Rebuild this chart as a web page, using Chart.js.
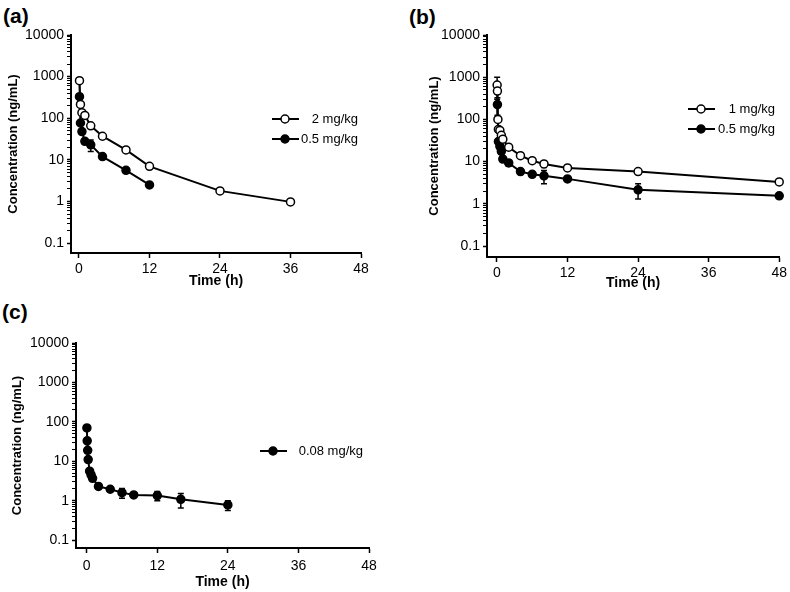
<!DOCTYPE html>
<html lang="en">
<head>
  <meta charset="UTF-8" />
  <title>Concentration-time profiles</title>
  <script src="https://cdn.jsdelivr.net/npm/chart.js"></script>
  <style>
    body { margin: 0; background: #fff; width: 790px; height: 592px; position: relative; overflow: hidden;
           font-family: "Liberation Sans", Arial, sans-serif; }
    canvas { position: absolute; }
    .tag { position: absolute; font-weight: bold; font-size: 21px; line-height: 21px; }
  </style>
</head>
<body>
  <div class="tag" style="left:3px;top:5px">(a)</div>
  <div class="tag" style="left:409px;top:6px">(b)</div>
  <div class="tag" style="left:2px;top:301px">(c)</div>

  <canvas id="chartA" width="385" height="290" style="left:0;top:0"></canvas>
  <canvas id="chartB" width="390" height="292" style="left:400px;top:0"></canvas>
  <canvas id="chartC" width="385" height="291" style="left:0;top:300px"></canvas>

  <script>
    const TIME_TICKS = [0, 12, 24, 36, 48];
    const CONC_TICKS = [0.1, 1, 10, 100, 1000, 10000];

    // (a)
    const timeA2 = [0.083, 0.25, 0.5, 1, 2, 4, 8, 12, 24, 36];
    const concA2 = [800, 215, 136, 117, 66, 37, 17.4, 7, 1.8, 0.98];
    const sdA2 = [0, 0, 0, 0, 0, 0, 0, 0, 0, 0];
    const timeA05 = [0.083, 0.25, 0.5, 1, 2, 4, 8, 12];
    const concA05 = [330, 77, 48, 28, 23, 12, 5.6, 2.5];
    const sdA05 = [470, 0, 0, 0, 7, 0, 0, 0];

    // (b)
    const timeB1 = [0.033, 0.083, 0.167, 0.25, 0.5, 0.75, 1, 2, 4, 6, 8, 12, 24, 48];
    const concB1 = [650, 470, 100, 58, 55, 42, 34, 22, 13.8, 10.5, 8.8, 7.1, 5.8, 3.3];
    const sdB1 = [350, 0, 0, 0, 0, 0, 0, 0, 0, 0, 1.5, 0, 0, 0];
    const timeB05 = [0.083, 0.25, 0.5, 0.75, 1, 2, 4, 6, 8, 12, 24, 48];
    const concB05 = [225, 30, 23, 17.5, 11.5, 9.3, 5.8, 5, 4.6, 3.9, 2.15, 1.55];
    const sdB05 = [100, 0, 0, 0, 0, 1.5, 0, 0, 1.6, 0, 0.85, 0];

    // (c)
    const timeC = [0.033, 0.083, 0.167, 0.25, 0.5, 0.75, 1, 2, 4, 6, 8, 12, 16, 24];
    const concC = [70, 33, 19, 11, 5.6, 4.5, 3.7, 2.3, 1.95, 1.6, 1.4, 1.35, 1.08, 0.78];
    const sdC = [0, 0, 0, 0, 0, 0, 0, 0.2, 0.2, 0.45, 0.15, 0.35, 0.43, 0.22];

    Chart.defaults.font.family = '"Liberation Sans", Arial, sans-serif';
    Chart.defaults.color = '#000';

    // log axis ticks: decades plus 2..9 minor marks
    const logTicks = [];
    CONC_TICKS.forEach((d, i) => {
      logTicks.push(d);
      if (i < CONC_TICKS.length - 1) for (let k = 2; k <= 9; k++) logTicks.push(d * k);
    });

    const errorBars = {
      id: 'errorBars',
      beforeDatasetsDraw(chart) {
        const ctx = chart.ctx;
        const yScale = chart.scales.y;
        chart.data.datasets.forEach((ds, i) => {
          if (!ds.sd) return;
          const meta = chart.getDatasetMeta(i);
          ctx.save();
          ctx.strokeStyle = '#000';
          ctx.lineWidth = 1.5;
          meta.data.forEach((pt, j) => {
            const sd = ds.sd[j];
            if (!sd) return;
            const v = ds.data[j].y;
            const hi = yScale.getPixelForValue(v + sd);
            // negative lower bounds can't show on a log axis, keep only the upper half
            const lo = v - sd > 0 ? yScale.getPixelForValue(v - sd) : pt.y;
            ctx.beginPath();
            ctx.moveTo(pt.x, hi); ctx.lineTo(pt.x, lo);
            ctx.moveTo(pt.x - 3, hi); ctx.lineTo(pt.x + 3, hi);
            if (v - sd > 0) { ctx.moveTo(pt.x - 3, lo); ctx.lineTo(pt.x + 3, lo); }
            ctx.stroke();
          });
          ctx.restore();
        });
      }
    };

    const insideLegend = {
      id: 'insideLegend',
      afterDraw(chart, args, opts) {
        const ctx = chart.ctx;
        chart.data.datasets.forEach((ds, i) => {
          const y = opts.y + i * opts.gap;
          ctx.save();
          ctx.strokeStyle = '#000';
          ctx.lineWidth = 2;
          ctx.beginPath();
          ctx.moveTo(opts.x, y);
          ctx.lineTo(opts.x + 27, y);
          ctx.stroke();
          ctx.beginPath();
          ctx.arc(opts.x + 13, y, 4, 0, Math.PI * 2);
          ctx.fillStyle = ds.pointBackgroundColor;
          ctx.fill();
          ctx.lineWidth = 1.5;
          ctx.stroke();
          ctx.fillStyle = '#000';
          ctx.font = '13px "Liberation Sans", Arial, sans-serif';
          ctx.textAlign = 'right';
          ctx.textBaseline = 'middle';
          ctx.fillText(ds.label, opts.textRight, y);
          ctx.restore();
        });
      }
    };

    function series(label, times, conc, sd, filled) {
      return {
        label: label,
        data: times.map((t, i) => ({ x: t, y: conc[i] })),
        sd: sd,
        borderColor: '#000',
        borderWidth: 2,
        pointRadius: 4,
        pointBorderWidth: 1.5,
        pointBorderColor: '#000',
        pointBackgroundColor: filled ? '#000' : '#fff',
        tension: 0,
        clip: false
      };
    }

    function makeChart(id, datasets, o) {
      return new Chart(document.getElementById(id), {
        type: 'line',
        data: { datasets: datasets },
        options: {
          responsive: false,
          animation: false,
          events: [],
          layout: { padding: { top: o.top, right: o.right, left: 0, bottom: 0 } },
          plugins: {
            legend: { display: false },
            tooltip: { enabled: false },
            insideLegend: o.legend
          },
          scales: {
            x: {
              type: 'linear',
              min: o.xMin,
              max: 48,
              afterBuildTicks: s => { s.ticks = TIME_TICKS.map(v => ({ value: v })); },
              afterFit: s => { s.height = o.xHeight; },
              grid: { drawOnChartArea: false, tickLength: 5, color: '#000', tickWidth: 1.5 },
              border: { color: '#000', width: 2 },
              ticks: { color: '#000', font: { size: 14 }, padding: o.xPad, maxRotation: 0, autoSkip: false },
              title: { display: true, text: 'Time (h)', color: '#000',
                       font: { size: 14, weight: 'bold' }, padding: 0 }
            },
            y: {
              type: 'logarithmic',
              min: o.yMin,
              max: 10000,
              afterBuildTicks: s => { s.ticks = logTicks.map(v => ({ value: v })); },
              afterFit: s => { s.width = o.yWidth; },
              grid: { drawOnChartArea: false, tickLength: 4, color: '#000',
                      tickWidth: c => CONC_TICKS.includes(c.tick.value) ? 1.5 : 1 },
              border: { color: '#000', width: 2 },
              ticks: { color: '#000', font: { size: 14 }, padding: 3, autoSkip: false,
                       callback: v => CONC_TICKS.includes(v) ? String(v) : '' },
              title: { display: true, text: 'Concentration (ng/mL)', color: '#000',
                       font: { size: 13, weight: 'bold' }, padding: { top: o.yTitlePad, bottom: 0 } }
            }
          }
        },
        plugins: [errorBars, insideLegend]
      });
    }

    makeChart('chartA', [
      series('2 mg/kg', timeA2, concA2, sdA2, false),
      series('0.5 mg/kg', timeA05, concA05, sdA05, true)
    ], { top: 35, right: 24, xMin: -1.36, yMin: 0.058, xHeight: 37, xPad: 3, yWidth: 71, yTitlePad: 6,
         legend: { x: 272, y: 119, gap: 20, textRight: 358 } });

    makeChart('chartB', [
      series('1 mg/kg', timeB1, concB1, sdB1, false),
      series('0.5 mg/kg', timeB05, concB05, sdB05, true)
    ], { top: 35, right: 9, xMin: -1.69, yMin: 0.055, xHeight: 35, xPad: 3, yWidth: 87, yTitlePad: 27,
         legend: { x: 288, y: 109, gap: 20, textRight: 375 } });

    makeChart('chartC', [
      series('0.08 mg/kg', timeC, concC, sdC, true)
    ], { top: 43, right: 16, xMin: -1.82, yMin: 0.063, xHeight: 43, xPad: 5, yWidth: 76, yTitlePad: 10,
         legend: { x: 260, y: 151, gap: 20, textRight: 363 } });
  </script>
</body>
</html>
